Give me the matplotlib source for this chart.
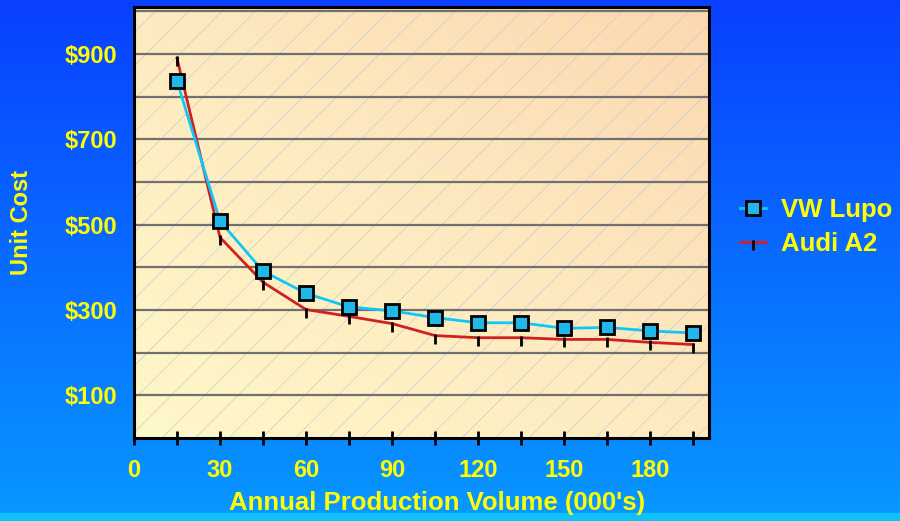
import numpy as np
import matplotlib
matplotlib.use("Agg")
import matplotlib.pyplot as plt
from matplotlib.path import Path
from matplotlib.patches import Rectangle
from matplotlib.colors import LinearSegmentedColormap

plt.rcParams['font.family'] = ['Liberation Sans', 'DejaVu Sans']
plt.rcParams['font.weight'] = 'bold'
plt.rcParams['hatch.linewidth'] = 0.5

# data
volume = [15, 30, 45, 60, 75, 90, 105, 120, 135, 150, 165, 180, 195]
vw_lupo = [836, 508, 391, 339, 307, 298, 282, 270, 270, 257, 259, 251, 246]
audi_a2 = [890, 470, 365, 301, 285, 268, 240, 235, 235, 231, 231, 224, 219]

x_labels = [0, 30, 60, 90, 120, 150, 180]
y_labels = [100, 300, 500, 700, 900]

YELLOW = '#ffff00'

fig = plt.figure(figsize=(9, 5.21), dpi=100)

# blue page background
bg = fig.add_axes([0, 0, 1, 1], zorder=-10)
bg_cmap = LinearSegmentedColormap.from_list('bg', ['#0a40ff', '#0898ff'])
bg.imshow(np.linspace(0, 1, 256).reshape(-1, 1), cmap=bg_cmap, aspect='auto',
          extent=[0, 1, 0, 1])
bg.add_patch(Rectangle((0, 0), 1, 8 / 521, color='#10c0f8'))
bg.set_xlim(0, 1)
bg.set_ylim(0, 1)
bg.axis('off')

ax = fig.add_axes([134 / 900, 1 - 438 / 521, 575 / 900, 431 / 521])
ax.set_xlim(0, 200.5)
ax.set_ylim(0, 1010)

# plot area: diagonal gradient + hatch
gx, gy = np.meshgrid(np.linspace(0, 1, 200), np.linspace(0, 1, 200))
grad = (gx + gy) / 2
pa_cmap = LinearSegmentedColormap.from_list('pa', ['#fff8c8', '#feeac0', '#fcd8b0'])
ax.imshow(grad, cmap=pa_cmap, aspect='auto', extent=[0, 200.5, 1010, 0], zorder=0)
ax.add_patch(Rectangle((0, 0), 1, 1, transform=ax.transAxes, fill=False,
                       hatch='/', edgecolor='#c4ccd8', linewidth=0, zorder=0.5))

for v in range(100, 1001, 100):
    ax.axhline(v, color='#707070', lw=1.6, zorder=1)

tick_down = Path([[0, 0.25], [0, -1]])

ax.plot(volume, vw_lupo, color='#10c8f8', lw=2, marker='s', markersize=10,
        markerfacecolor='#20b8e8', markeredgecolor='black', markeredgewidth=2,
        label='VW Lupo', zorder=4)
ax.plot(volume, audi_a2, color='#d02020', lw=2, marker=tick_down, markersize=11,
        markeredgecolor='black', markeredgewidth=2, label='Audi A2', zorder=3)

for s in ax.spines.values():
    s.set_color('black')
    s.set_linewidth(2.2)
    s.set_zorder(5)

# tick marks every 15, labels every 30
x_ticks = [0] + volume
ax.set_xticks(x_ticks)
ax.set_xticklabels([str(v) if v in x_labels else '' for v in x_ticks])
ax.tick_params(axis='x', length=10, width=2, direction='inout', color='black',
               pad=10, labelsize=17, labelcolor=YELLOW)
ax.set_yticks(y_labels)
ax.set_yticklabels(['$%d' % v for v in y_labels])
ax.tick_params(axis='y', length=0, pad=12, labelsize=17, labelcolor=YELLOW)

fig.text(437 / 900, 1 - 503 / 521, "Annual Production Volume (000's)", color=YELLOW,
         fontsize=18.5, fontweight='bold', ha='center', va='center')
fig.text(22 / 900, 1 - 222 / 521, 'Unit Cost', color=YELLOW, fontsize=17,
         fontweight='bold', ha='center', va='center', rotation=90)

leg = fig.legend(loc='center left', bbox_to_anchor=(730 / 900, 1 - 227 / 521),
                 frameon=False, fontsize=18.5, labelcolor=YELLOW, handlelength=1.0,
                 handletextpad=0.6, labelspacing=0.4, borderaxespad=0)
for t in leg.get_texts():
    t.set_fontweight('bold')

fig.savefig('out.png', dpi=100)
